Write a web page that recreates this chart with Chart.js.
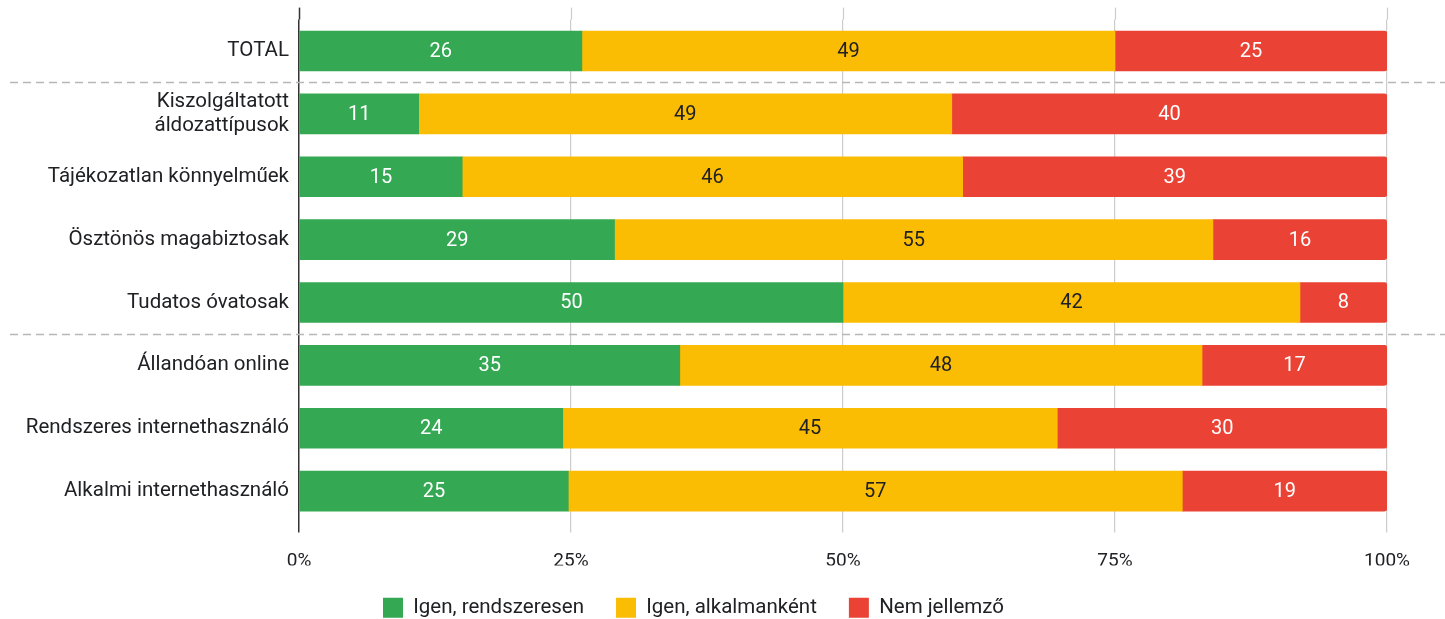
<!DOCTYPE html>
<html>
<head>
<meta charset="utf-8">
<script src="https://cdn.jsdelivr.net/npm/chart.js@4"></script>
<style>
  html, body { margin: 0; padding: 0; background: #fff; overflow: hidden; }
  #wrap { position: relative; width: 1445px; height: 628px; }
</style>
</head>
<body>
<div id="wrap"><canvas id="c"></canvas></div>
<script>
const categories = [
  'TOTAL',
  ['Kiszolgáltatott', 'áldozattípusok'],
  'Tájékozatlan könnyelműek',
  'Ösztönös magabiztosak',
  'Tudatos óvatosak',
  'Állandóan online',
  'Rendszeres internethasználó',
  'Alkalmi internethasználó'
];
const seriesNames = ['Igen, rendszeresen', 'Igen, alkalmanként', 'Nem jellemző'];
const regularly = [26, 11, 15, 29, 50, 35, 24, 25];
const occasionally = [49, 49, 46, 55, 42, 48, 45, 57];
const notTypical = [25, 40, 39, 16, 8, 17, 30, 19];
const xTicks = [0, 25, 50, 75, 100];
const separatorsAfter = [0, 4];

const colors = ['#34A853', '#FBBC04', '#EA4335'];
const labelColors = ['#ffffff', '#202124', '#ffffff'];
const raw = [regularly, occasionally, notTypical];
const totals = categories.map((_, i) => regularly[i] + occasionally[i] + notTypical[i]);
const shares = raw.map(arr => arr.map((v, i) => v / totals[i] * 100));

const FONT = 'Roboto';

const extrasPlugin = {
  id: 'extras',
  beforeDatasetsDraw(chart) {
    const ctx = chart.ctx, x = chart.scales.x, y = chart.scales.y, area = chart.chartArea;
    ctx.save();
    xTicks.forEach(t => {
      const px = Math.round(x.getPixelForValue(t)) + 0.5;
      ctx.beginPath();
      ctx.strokeStyle = t === 0 ? '#333333' : '#cccccc';
      ctx.lineWidth = t === 0 ? 1.5 : 1.2;
      ctx.moveTo(px, area.top - 12);
      ctx.lineTo(px, area.top);
      ctx.stroke();
    });
    ctx.setLineDash([8, 5]);
    ctx.strokeStyle = '#b7b7b7';
    ctx.lineWidth = 1.5;
    separatorsAfter.forEach(i => {
      const py = Math.round((y.getPixelForValue(i) + y.getPixelForValue(i + 1)) / 2) + 0.5;
      ctx.beginPath();
      ctx.moveTo(10, py);
      ctx.lineTo(chart.width, py);
      ctx.stroke();
    });
    ctx.restore();
  },
  afterDatasetsDraw(chart) {
    const ctx = chart.ctx;
    ctx.save();
    ctx.font = '20px ' + FONT;
    ctx.textAlign = 'center';
    ctx.textBaseline = 'middle';
    chart.data.datasets.forEach((ds, di) => {
      const meta = chart.getDatasetMeta(di);
      meta.data.forEach((el, i) => {
        const cx = (el.x + el.base) / 2;
        ctx.fillStyle = labelColors[di];
        ctx.fillText(String(raw[di][i]), cx, el.y + 1);
      });
    });
    ctx.restore();
  }
};

new Chart(document.getElementById('c'), {
  type: 'bar',
  data: {
    labels: categories,
    datasets: seriesNames.map((name, di) => ({
      label: name,
      data: shares[di],
      backgroundColor: colors[di],
      borderWidth: 0,
      barThickness: 40,
      borderRadius: di === 2 ? {topLeft: 0, bottomLeft: 0, topRight: 3, bottomRight: 3} : 0,
      borderSkipped: false
    }))
  },
  options: {
    indexAxis: 'y',
    responsive: true,
    maintainAspectRatio: false,
    animation: false,
    layout: { padding: { top: 19.6, right: 58, left: 0, bottom: 0 } },
    plugins: {
      tooltip: { enabled: false },
      legend: {
        position: 'bottom',
        labels: {
          font: { family: FONT, size: 20.5 },
          color: '#202124',
          boxWidth: 20,
          boxHeight: 20,
          padding: 32
        }
      }
    },
    scales: {
      x: {
        stacked: true,
        min: 0,
        max: 100,
        afterBuildTicks(scale) { scale.ticks = xTicks.map(v => ({ value: v })); },
        afterFit(scale) { scale.height = 43; scale.paddingLeft = 0; scale.paddingRight = 0; },
        ticks: {
          callback: v => v + '%',
          font: { family: FONT, size: 19 },
          color: '#202124',
          padding: 17,
          maxRotation: 0
        },
        grid: {
          color: c => (c.tick && c.tick.value === 0) ? '#333333' : '#cccccc',
          lineWidth: c => (c.tick && c.tick.value === 0) ? 1.5 : 1.2,
          tickLength: 10,
          drawTicks: true
        },
        border: { display: false }
      },
      y: {
        stacked: true,
        afterFit(scale) { scale.width = 299; scale.paddingTop = 0; scale.paddingBottom = 0; },
        ticks: {
          font: { family: FONT, size: 20.5 },
          color: '#202124',
          padding: 10
        },
        grid: { display: false, drawTicks: false },
        border: { display: false }
      }
    }
  },
  plugins: [extrasPlugin]
});
</script>
</body>
</html>
